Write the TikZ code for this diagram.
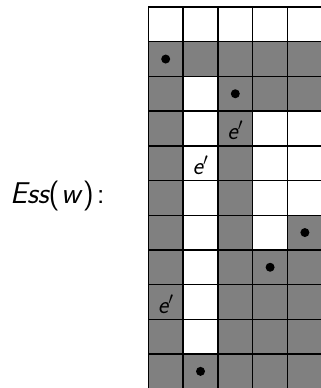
\documentclass[tikz,border=0pt]{standalone}
\definecolor{cellgray}{HTML}{808080}
\begin{document}
\begin{tikzpicture}[x=1pt,y=-1pt,
  cell/.style={draw=black, line width=1.4pt, minimum width=34.8pt, minimum height=34.7pt,
    inner sep=0pt, outer sep=0pt, anchor=north west},
  dotmark/.style={circle, fill=black, minimum size=9pt, inner sep=0pt},
  lab/.style={font=\fontsize{25}{28}\selectfont\sffamily\itshape, inner sep=0pt},
  title/.style={font=\fontsize{30}{36}\selectfont\sffamily, inner sep=0pt, anchor=base west}]
\useasboundingbox (0,0) rectangle (321,388);
\clip (0,0) rectangle (321,388);
\foreach \r/\pat in {1/{0,0,0,0,0},2/{1,1,1,1,1},3/{1,0,1,1,1},4/{1,0,1,0,0},
  5/{1,0,1,0,0},6/{1,0,1,0,0},7/{1,0,1,0,1},8/{1,0,1,1,1},9/{1,0,1,1,1},
  10/{1,0,1,1,1},11/{1,1,1,1,1}} {
  \foreach \g [count=\c] in \pat {
    \ifnum\g=1 \def\fc{cellgray}\else\def\fc{white}\fi
    \node[cell, fill=\fc] (c\r-\c) at ({148.3+34.8*(\c-1)}, {7+34.7*(\r-1)}) {};
  }
}
\node[dotmark] (d1) at (c2-1.center) {};
\node[dotmark] (d2) at (c3-3.center) {};
\node[dotmark] (d3) at (c7-5.center) {};
\node[dotmark] (d4) at (c8-4.center) {};
\node[dotmark] (d5) at (c11-2.center) {};
\node[lab] (e1) at ([yshift=-2pt]c4-3.center) {e$'$};
\node[lab] (e2) at ([yshift=-2pt]c5-2.center) {e$'$};
\node[lab] (e3) at ([yshift=-2pt]c9-1.center) {e$'$};
\node[title] (t) at (10,203.3) {\itshape Ess\upshape(\kern1.5pt\itshape w\kern2.5pt\upshape)\kern3pt:};
\end{tikzpicture}
\end{document}
